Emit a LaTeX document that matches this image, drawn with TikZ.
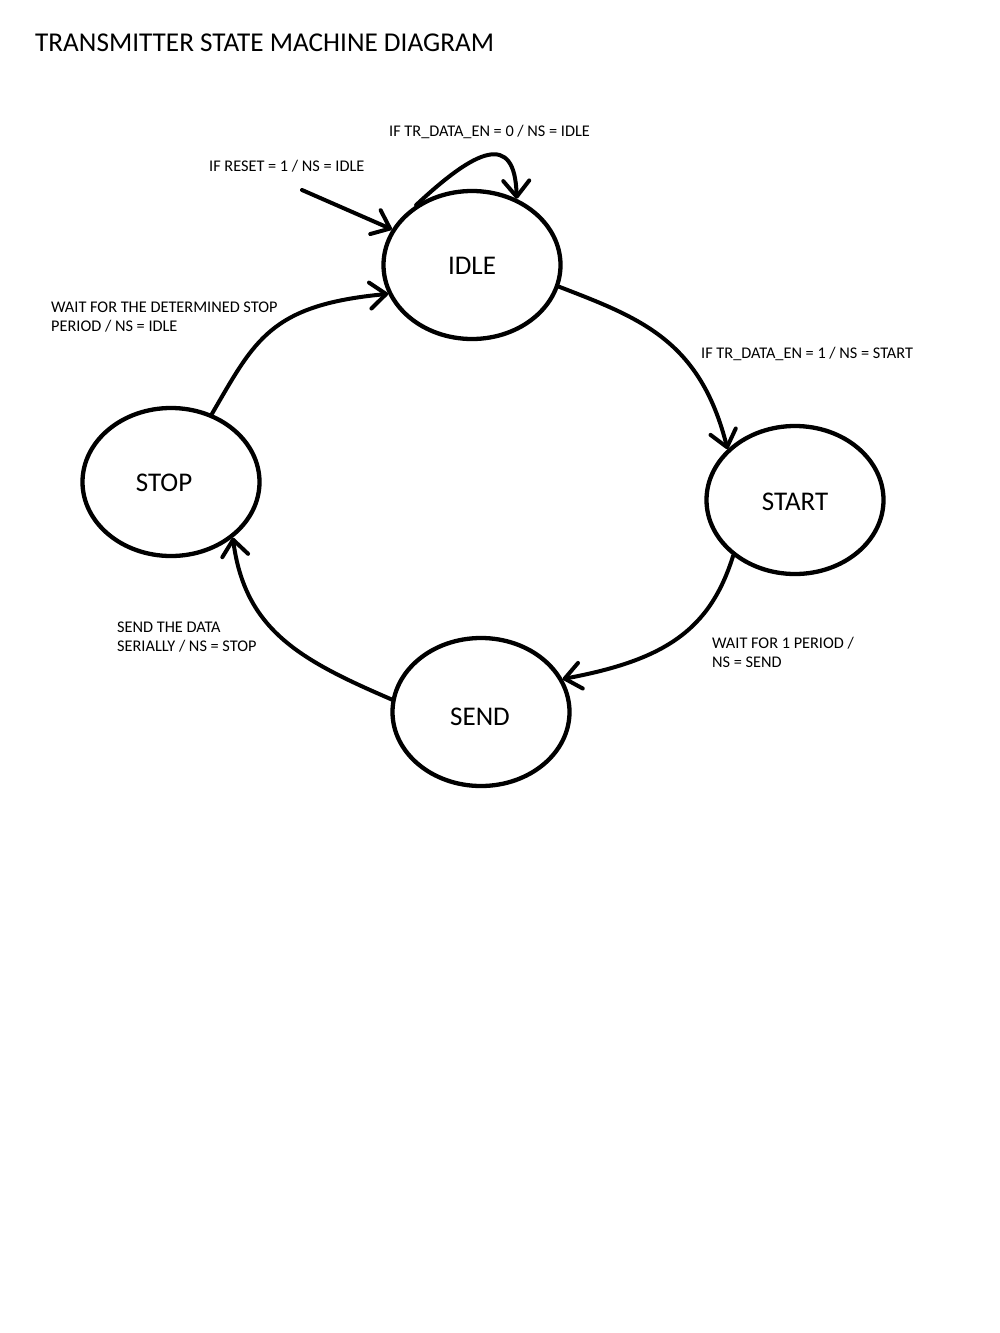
\documentclass[tikz,border=0pt]{standalone}
\usepackage{fontspec}
\setmainfont{Carlito}
\usetikzlibrary{shapes.geometric,arrows.meta}
\begin{document}
\begin{tikzpicture}[x=1pt,y=-1pt,
  state/.style={draw=black,line width=4.3pt,ellipse,minimum width=177pt,minimum height=148pt,inner sep=0pt},
  statetext/.style={inner sep=0pt,font=\fontsize{27}{31}\selectfont},
  lbl/.style={anchor=west,align=left,inner sep=0pt,font=\fontsize{16.3}{19}\selectfont},
  edge/.style={line width=4pt,line cap=round,-{Straight Barb[length=16pt,width=26pt,line width=4pt,line cap=round,line join=round]}}]
\useasboundingbox (0,0) rectangle (1000,1333);
\fill[white] (0,0) rectangle (1000,1333);
\node[anchor=west,inner sep=0pt,font=\fontsize{27.2}{31}\selectfont] (title) at (35,43) {TRANSMITTER STATE MACHINE DIAGRAM};

\node[state] (idle) at (472,265) {};
\node[state] (start) at (795,500) {};
\node[state] (stop) at (171,482) {};
\node[state] (send) at (481,712) {};
\node[statetext] (tidle) at (472,266) {IDLE};
\node[statetext] (tstart) at (795,502) {START};
\node[statetext] (tstop) at (164,483) {STOP};
\node[statetext] (tsend) at (480,717) {SEND};

\node[lbl] (l0) at (389,132) {IF TR\_DATA\_EN = 0 / NS = IDLE};
\node[lbl] (lr) at (209,166) {IF RESET = 1 / NS = IDLE};
\node[lbl] (l1) at (701,354) {IF TR\_DATA\_EN = 1 / NS = START};
\node[lbl] (lw) at (51,317.5) {WAIT FOR THE DETERMINED STOP\\PERIOD / NS = IDLE};
\node[lbl] (lp) at (712,652.5) {WAIT FOR 1 PERIOD /\\NS = SEND};
\node[lbl] (ls) at (117,637.5) {SEND THE DATA\\SERIALLY / NS = STOP};

\coordinate (rst) at (302,190);
\draw[edge] (rst) -- (idle.156);
\draw[edge] (idle.133) .. controls (475,150) and (515,130) .. (idle.56);
\draw[edge] (idle.-14) .. controls (640,318) and (700,340) .. (start.143);
\draw[edge] (start.222) .. controls (710,630) and (665,660) .. (send.22);
\draw[edge] (send.172) .. controls (300,660) and (245,630) .. (stop.-42);
\draw[edge] (stop.59) .. controls (255,340) and (270,305) .. (idle.199);
\end{tikzpicture}
\end{document}
